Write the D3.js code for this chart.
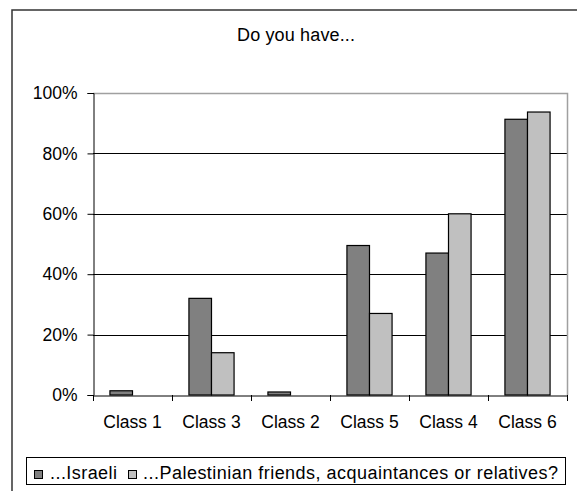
<!DOCTYPE html>
<html><head><meta charset="utf-8">
<script src="https://cdn.jsdelivr.net/npm/d3@7"></script>
<style>body{margin:0;background:#fff}svg{display:block}text{font-family:"Liberation Sans",Arial,sans-serif;fill:#000}</style>
</head><body><svg id="c" width="577" height="491"></svg>
<script>
const categories = ["Class 1","Class 3","Class 2","Class 5","Class 4","Class 6"];
const seriesNames = ["...Israeli","...Palestinian friends, acquaintances or relatives?"];
const israeli = [1.4, 32, 1, 49.5, 47, 91.3];
const palestinian = [0, 14, 0, 27, 60, 93.7];
const yTicks = [0,20,40,60,80,100];
const colors = ["#808080","#c0c0c0"];
const title = "Do you have...";

const svg = d3.select("#c");
const L=93, R=567, T=93, B=395;
svg.append("rect").attr("x",12).attr("y",10).attr("width",700).attr("height",700).attr("fill","none").attr("stroke","#333").attr("stroke-width",1.5);
svg.append("text").attr("x",296).attr("y",41).attr("text-anchor","middle").attr("font-size",18).attr("textLength",118).attr("lengthAdjust","spacing").text(title);

const x = d3.scaleBand().domain(categories).range([L,R]).paddingInner(0).paddingOuter(0);
const y = d3.scaleLinear().domain([0,100]).range([B,T]);
const bw = x.bandwidth()/3.5;
const off = bw*0.75;

// gridlines
svg.append("g").selectAll("line").data(yTicks.filter(d=>d>0&&d<100)).join("line")
  .attr("x1",L).attr("x2",R).attr("y1",d=>Math.round(y(d))+0.5).attr("y2",d=>Math.round(y(d))+0.5).attr("stroke","#000");
// plot border top/right
svg.append("path").attr("d",`M${L},${Math.round(T)+0.5}H${R+0.5}V${B}`).attr("fill","none").attr("stroke","#a0a0a0").attr("stroke-width",1.5);

const data = categories.map((c,i)=>({c,v:[israeli[i],palestinian[i]]}));
const g = svg.append("g");
data.forEach(d=>{
  d.v.forEach((v,j)=>{
    if(v<=0) return;
    g.append("rect").attr("x",x(d.c)+off+j*bw).attr("y",y(v)).attr("width",bw).attr("height",B-y(v))
      .attr("fill",colors[j]).attr("stroke","#000").attr("stroke-width",1.2);
  });
});

// y axis
const ya = svg.append("g").attr("transform",`translate(${L+0.5},0)`)
  .call(d3.axisLeft(y).tickValues(yTicks).tickFormat(d=>d+"%").tickSize(6).tickPadding(10));
ya.select(".domain").attr("stroke","#000");
ya.selectAll("text").attr("font-size",17.5).attr("font-family","Liberation Sans, Arial, sans-serif").attr("fill","#000");
// x axis
const xa = svg.append("g").attr("transform",`translate(0,${B+0.5})`)
  .call(d3.axisBottom(x).tickSize(0).tickPadding(20));
xa.select(".domain").attr("stroke","#000");
xa.selectAll("text").attr("font-size",17.5).attr("font-family","Liberation Sans, Arial, sans-serif").attr("fill","#000");
// boundary ticks
svg.append("g").selectAll("line").data(d3.range(categories.length+1)).join("line")
  .attr("x1",i=>Math.round(L+i*x.bandwidth())+0.5).attr("x2",i=>Math.round(L+i*x.bandwidth())+0.5)
  .attr("y1",B).attr("y2",B+6).attr("stroke","#000");

// legend
const lg = svg.append("g");
lg.append("rect").attr("x",26.5).attr("y",457.5).attr("width",539).attr("height",27).attr("fill","#fff").attr("stroke","#000");
const lx = [34,128];
const tx = [50,143];
const tl = [67,415];
seriesNames.forEach((n,i)=>{
  lg.append("rect").attr("x",lx[i]+0.5).attr("y",470.5).attr("width",8).attr("height",8).attr("fill",colors[i]).attr("stroke","#000");
  lg.append("text").attr("x",tx[i]).attr("y",479).attr("font-size",18).attr("textLength",tl[i]).attr("lengthAdjust","spacing").text(n);
});
</script></body></html>
